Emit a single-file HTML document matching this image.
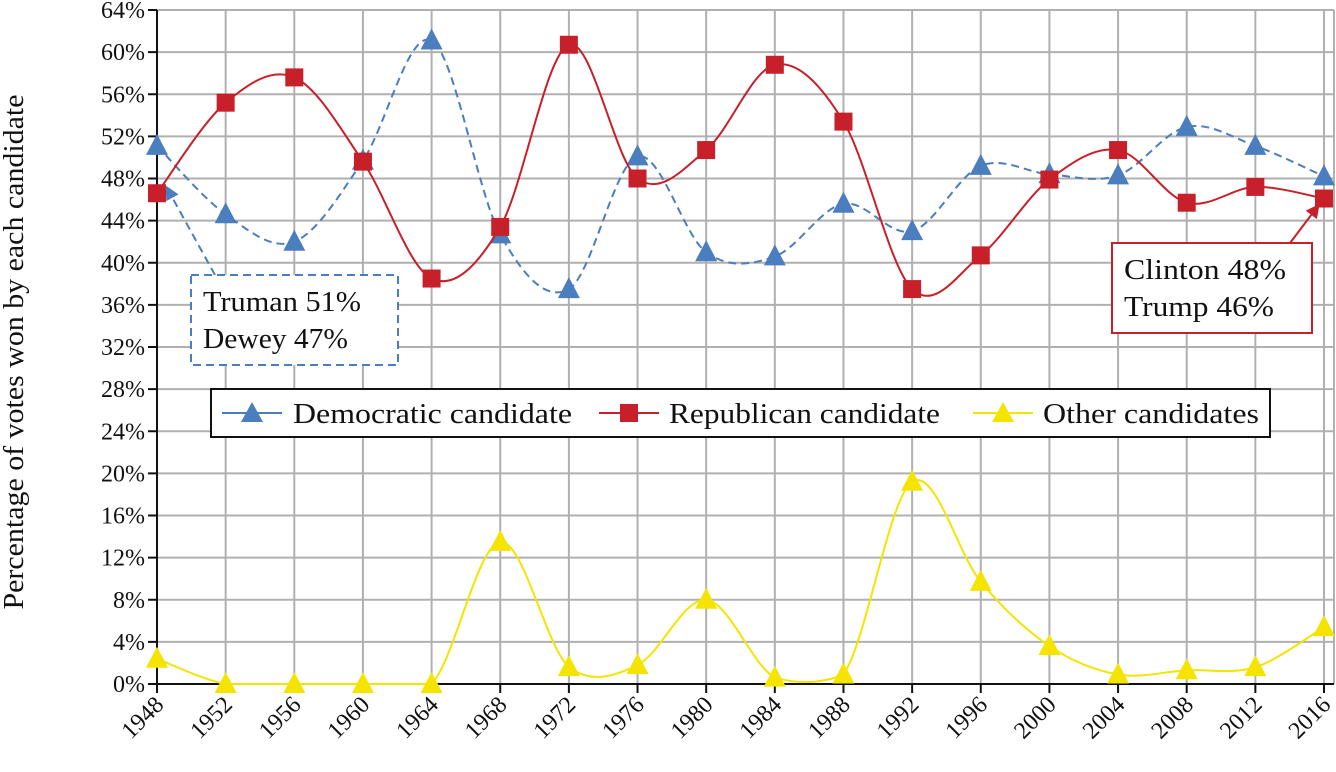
<!DOCTYPE html>
<html><head><meta charset="utf-8"><style>
body{margin:0;background:#fff;}
svg{display:block;font-family:"Liberation Serif",serif;}
</style></head><body>
<svg id="chart" width="1336" height="772" viewBox="0 0 1336 772">
<defs>
<marker id="arrB" viewBox="0 0 10 10" refX="8" refY="5" markerWidth="7" markerHeight="7" orient="auto"><path d="M0,0L10,5L0,10z" fill="#4a7ebf"/></marker>
<marker id="arrR" viewBox="0 0 10 10" refX="8" refY="5" markerWidth="7" markerHeight="7" orient="auto"><path d="M0,0L10,5L0,10z" fill="#c8202a"/></marker>
</defs>
<g id="grid"></g>
<g id="axes"></g>
<g id="series"></g>
<g>
<line x1="215" y1="275" x2="167" y2="188" stroke="#4a7ebf" stroke-width="2" stroke-dasharray="8,5" marker-end="url(#arrB)"/>
<rect x="191" y="275" width="207" height="90" fill="#fff" stroke="#4a7ebf" stroke-width="2" stroke-dasharray="8,5"/>
<text x="203" y="311" font-size="28" fill="#111" textLength="158" lengthAdjust="spacingAndGlyphs">Truman 51%</text>
<text x="203" y="348" font-size="28" fill="#111" textLength="145" lengthAdjust="spacingAndGlyphs">Dewey 47%</text>
</g>
<g>
<line x1="1290" y1="243" x2="1318" y2="206" stroke="#c8202a" stroke-width="2" marker-end="url(#arrR)"/>
<rect x="1112" y="243" width="200" height="90" fill="#fff" stroke="#c8202a" stroke-width="2"/>
<text x="1124" y="279" font-size="28" fill="#111" textLength="162" lengthAdjust="spacingAndGlyphs">Clinton 48%</text>
<text x="1124" y="316" font-size="28" fill="#111" textLength="150" lengthAdjust="spacingAndGlyphs">Trump 46%</text>
</g>
<g>
<rect x="211" y="389" width="1059" height="48" fill="#fff" stroke="#111" stroke-width="2"/>
<line x1="222" y1="413" x2="282" y2="413" stroke="#4a7ebf" stroke-width="2"/>
<path d="M252,402L263,422L241,422z" fill="#4a7ebf"/>
<text x="293" y="423" font-size="28" fill="#111" textLength="279" lengthAdjust="spacingAndGlyphs">Democratic candidate</text>
<line x1="599" y1="413" x2="659" y2="413" stroke="#c8202a" stroke-width="2"/>
<rect x="620" y="404" width="18" height="18" fill="#c8202a"/>
<text x="669" y="423" font-size="28" fill="#111" textLength="271" lengthAdjust="spacingAndGlyphs">Republican candidate</text>
<line x1="973" y1="413" x2="1033" y2="413" stroke="#f5e400" stroke-width="2"/>
<path d="M1003,402L1014,422L992,422z" fill="#f5e400"/>
<text x="1043" y="423" font-size="28" fill="#111" textLength="216" lengthAdjust="spacingAndGlyphs">Other candidates</text>
</g>
<text transform="translate(23,352) rotate(-90)" text-anchor="middle" font-size="28" fill="#111" textLength="515" lengthAdjust="spacingAndGlyphs">Percentage of votes won by each candidate</text>
</svg>
<script>
const years=[1948,1952,1956,1960,1964,1968,1972,1976,1980,1984,1988,1992,1996,2000,2004,2008,2012,2016];
const demValues=[51.1,44.6,42.0,49.7,61.1,42.7,37.5,50.1,41.0,40.6,45.6,43.0,49.2,48.4,48.3,52.9,51.1,48.2];
const repValues=[46.6,55.2,57.6,49.6,38.5,43.4,60.7,48.0,50.7,58.8,53.4,37.5,40.7,47.9,50.7,45.7,47.2,46.1];
const otherValues=[2.4,0,0,0,0,13.5,1.6,1.8,8.0,0.6,0.9,19.2,9.7,3.6,0.9,1.3,1.6,5.4];
const yTicks=[0,4,8,12,16,20,24,28,32,36,40,44,48,52,56,60,64];

const NS="http://www.w3.org/2000/svg";
const x0=157,x1=1324,yb=684,yt=10;
const X=i=>x0+(x1-x0)*i/(years.length-1);
const Y=v=>yb-(yb-yt)*v/64;
function mk(tag,attrs,parent){const e=document.createElementNS(NS,tag);for(const k in attrs)e.setAttribute(k,attrs[k]);parent.appendChild(e);return e;}
const grid=document.getElementById('grid'),axes=document.getElementById('axes'),ser=document.getElementById('series');
yTicks.forEach(t=>{
 const l=mk('line',{x1:x0,x2:1334,y1:Y(t),y2:Y(t),stroke:'#b0b0b0','stroke-width':2},grid);
 
 
 mk('line',{x1:x0-9,x2:x0,y1:Y(t),y2:Y(t),stroke:'#111','stroke-width':2},axes);
 const tx=mk('text',{x:x0-12,y:Y(t)+8,'text-anchor':'end','font-size':24,fill:'#111'},axes);
 tx.textContent=t+'%';
 
 
});
mk('line',{x1:1334,x2:1334,y1:yt,y2:yb,stroke:'#b0b0b0','stroke-width':2},grid);
years.forEach((y,i)=>{
 const l=mk('line',{x1:X(i),x2:X(i),y1:yt,y2:yb,stroke:'#b0b0b0','stroke-width':2},grid);
 
 
 mk('line',{x1:X(i),x2:X(i),y1:yb,y2:yb+9,stroke:'#111','stroke-width':2},axes);
 const tx=mk('text',{transform:`translate(${X(i)+8},${yb+22}) rotate(-45)`,'text-anchor':'end','font-size':24,fill:'#111'},axes);
 tx.textContent=y;
 
 
});
mk('line',{x1:x0,x2:x0,y1:yt,y2:yb,stroke:'#111','stroke-width':2},axes);
mk('line',{x1:x0,x2:1334,y1:yb,y2:yb,stroke:'#111','stroke-width':2},axes);

function smooth(vals){
 const p=vals.map((v,i)=>[X(i),Y(v)]);
 const cl=y=>Math.min(y,yb);
 let d=`M${p[0][0]},${p[0][1]}`;
 for(let i=0;i<p.length-1;i++){
  const a=p[Math.max(0,i-1)],b=p[i],c=p[i+1],e=p[Math.min(p.length-1,i+2)];
  const c1=[b[0]+(c[0]-a[0])/6,cl(b[1]+(c[1]-a[1])/6)],c2=[c[0]-(e[0]-b[0])/6,cl(c[1]-(e[1]-b[1])/6)];
  d+=`C${c1[0]},${c1[1]} ${c2[0]},${c2[1]} ${c[0]},${c[1]}`;
 }
 return d;
}
function series(vals,color,dash,shape,name){
 const g=mk('g',{},ser);
 
 
 const attrs={d:smooth(vals),fill:'none',stroke:color,'stroke-width':2};
 if(dash)attrs['stroke-dasharray']=dash;
 mk('path',attrs,g);
 vals.forEach((v,i)=>{
  const x=X(i),y=Y(v);let m;
  if(shape==='tri')m=mk('path',{d:`M${x},${y-12}L${x+11},${y+9}L${x-11},${y+9}z`,fill:color},g);
  else m=mk('rect',{x:x-9,y:y-9,width:18,height:18,fill:color},g);
  
  
 });
}
series(otherValues,'#f5e400',null,'tri','other');
series(demValues,'#4a7ebf','8,5','tri','democratic');
series(repValues,'#c8202a',null,'sq','republican');
</script>
</body></html>
